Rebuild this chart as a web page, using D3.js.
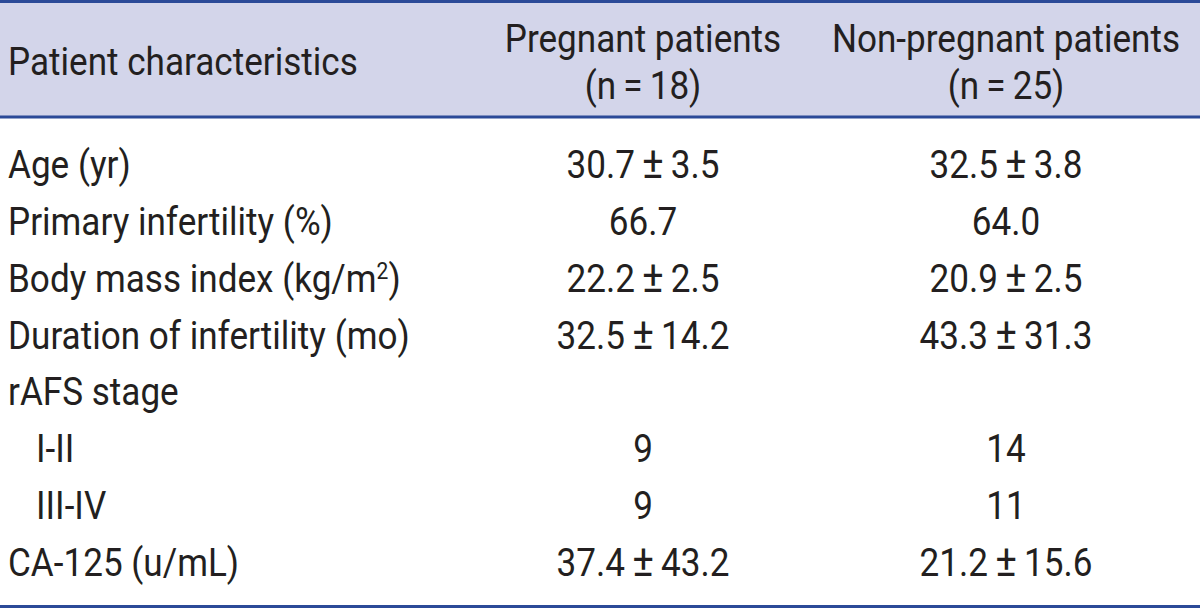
<!DOCTYPE html>
<html>
<head>
<meta charset="utf-8">
<script src="https://cdn.jsdelivr.net/npm/d3@7"></script>
<style>
  body { margin: 0; background: #fff; }
  svg text { font-family: "Liberation Sans Narrow", "Roboto", sans-serif; fill: #231f20; }
</style>
</head>
<body>
<div id="wrapper"></div>
<script>
// table content
const columns = ["Patient characteristics", "Pregnant patients", "Non-pregnant patients"];
const groupSizes = ["", "(n\u2009=\u200918)", "(n\u2009=\u200925)"];
const rowLabels = [
  "Age (yr)",
  "Primary infertility (%)",
  "Body mass index (kg/m2)",
  "Duration of infertility (mo)",
  "rAFS stage",
  "I-II",
  "III-IV",
  "CA-125 (u/mL)"
];
const indented = [false, false, false, false, false, true, true, false];
const pregnant = ["30.7\u2009±\u20093.5", "66.7", "22.2\u2009±\u20092.5", "32.5\u2009±\u200914.2", "", "9", "9", "37.4\u2009±\u200943.2"];
const nonPregnant = ["32.5\u2009±\u20093.8", "64.0", "20.9\u2009±\u20092.5", "43.3\u2009±\u200931.3", "", "14", "11", "21.2\u2009±\u200915.6"];

const dimensions = {
  width: 1200,
  height: 609,
  headerHeight: 117,
  rule: 3
};

const wrapper = d3.select("#wrapper")
  .append("svg")
  .attr("width", dimensions.width)
  .attr("height", dimensions.height);

const RULE_COLOR = "#2b4a98";
const FONT_SIZE = 39;
// the original face is narrower than Roboto, so squeeze text a little
const SQUEEZE = 0.9;
const place = x => `translate(${x},0) scale(${SQUEEZE},1)`;

// the ± sign is drawn a bit bigger, like in the source table
function writeValue(sel) {
  sel.each(function(d) {
    const t = d3.select(this);
    const parts = d.split("±");
    if (parts.length < 2) { t.text(d); return; }
    t.append("tspan").text(parts[0]);
    t.append("tspan").style("font-size", `${FONT_SIZE * 1.15}px`).text("±");
    t.append("tspan").text(parts[1]);
  });
}

// header band
wrapper.append("rect")
  .attr("x", 0)
  .attr("y", 0)
  .attr("width", dimensions.width)
  .attr("height", dimensions.headerHeight)
  .attr("fill", "#d3d5ea");

// rows are placed with a band scale
const yScale = d3.scaleBand()
  .domain(d3.range(rowLabels.length))
  .range([dimensions.headerHeight + 17, 588]);

// centres of the two value columns
const xScale = d3.scaleOrdinal()
  .domain([1, 2])
  .range([643, 1006]);

// header text
const header = wrapper.append("g");
header.append("text")
  .attr("transform", place(8))
  .attr("y", 75)
  .style("font-size", `${FONT_SIZE}px`)
  .text(columns[0]);

[1, 2].forEach(i => {
  header.append("text")
    .attr("transform", place(xScale(i)))
    .attr("y", 52)
    .attr("text-anchor", "middle")
    .style("font-size", `${FONT_SIZE}px`)
    .text(columns[i]);
  header.append("text")
    .attr("transform", place(xScale(i)))
    .attr("y", 99)
    .attr("text-anchor", "middle")
    .style("font-size", `${FONT_SIZE}px`)
    .text(groupSizes[i]);
});

// body rows
const rows = wrapper.append("g")
  .selectAll("g")
  .data(rowLabels)
  .join("g")
  .attr("transform", (d, i) => `translate(0, ${yScale(i) + yScale.bandwidth() * 0.78})`);

rows.append("text")
  .attr("transform", (d, i) => place(indented[i] ? 36 : 8))
  .style("font-size", `${FONT_SIZE}px`)
  .each(function(d) {
    const t = d3.select(this);
    // superscript for m2
    if (d.endsWith("m2)")) {
      t.append("tspan").text(d.slice(0, -2));
      t.append("tspan")
        .attr("dy", -13)
        .style("font-size", `${FONT_SIZE * 0.6}px`)
        .text("2");
      t.append("tspan")
        .attr("dy", 13)
        .text(")");
    } else {
      t.text(d);
    }
  });

rows.append("text")
  .datum((d, i) => pregnant[i])
  .attr("transform", place(xScale(1)))
  .attr("text-anchor", "middle")
  .style("font-size", `${FONT_SIZE}px`)
  .call(writeValue);

rows.append("text")
  .datum((d, i) => nonPregnant[i])
  .attr("transform", place(xScale(2)))
  .attr("text-anchor", "middle")
  .style("font-size", `${FONT_SIZE}px`)
  .call(writeValue);

// rules
[1.5, dimensions.headerHeight, dimensions.height - 2.5].forEach(y => {
  wrapper.append("line")
    .attr("x1", 0)
    .attr("x2", dimensions.width)
    .attr("y1", y)
    .attr("y2", y)
    .attr("stroke", RULE_COLOR)
    .attr("stroke-width", dimensions.rule);
});
</script>
</body>
</html>
